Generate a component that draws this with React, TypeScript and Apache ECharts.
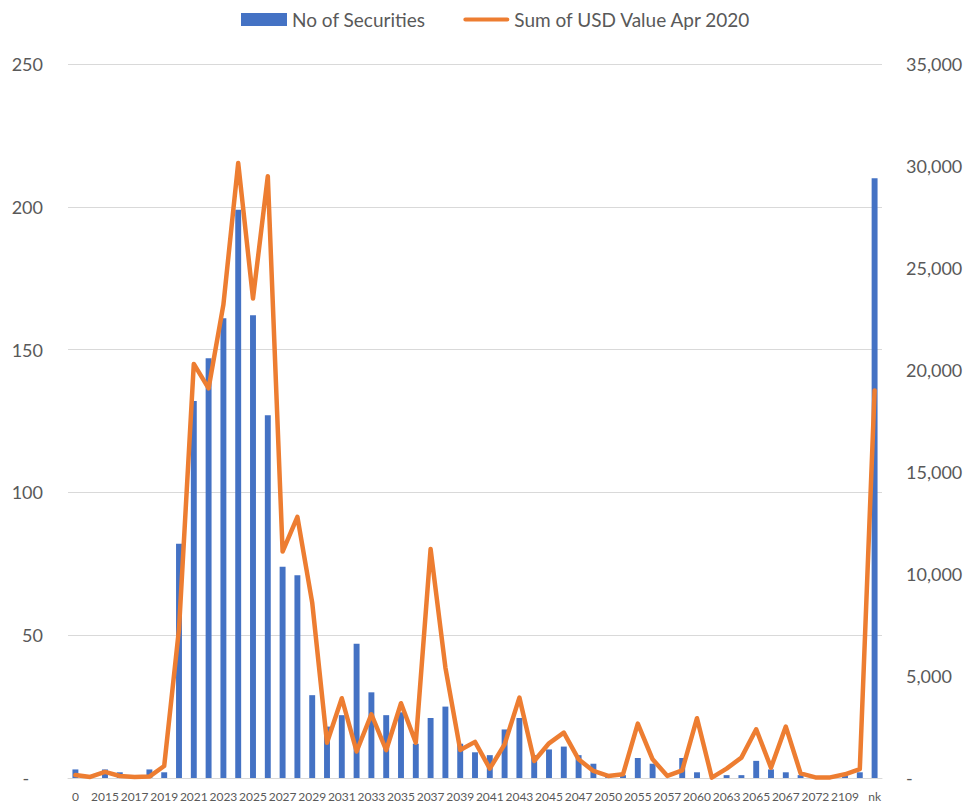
import React, { useEffect, useRef } from "react";
import * as echarts from "echarts";

const categories = [
  "0", "2014", "2015", "2016", "2017", "2018", "2019", "2020", "2021", "2022",
  "2023", "2024", "2025", "2026", "2027", "2028", "2029", "2030", "2031", "2032",
  "2033", "2034", "2035", "2036", "2037", "2038", "2039", "2040", "2041", "2042",
  "2043", "2044", "2045", "2046", "2047", "2048", "2050", "2052", "2055", "2056",
  "2057", "2058", "2060", "2062", "2063", "2064", "2065", "2066", "2067", "2070",
  "2072", "2079", "2109", "2116", "nk",
];

const noOfSecurities = [
  3, 0, 3, 2, 0, 3, 2, 82, 132, 147,
  161, 199, 162, 127, 74, 71, 29, 18, 22, 47,
  30, 22, 23, 12, 21, 25, 12, 9, 8, 17,
  21, 8, 10, 11, 8, 5, 1, 1, 7, 5,
  0, 7, 2, 0, 1, 1, 6, 3, 2, 1,
  0, 0, 1, 2, 210,
];

const sumUsdValue = [
  150, 50, 300, 100, 50, 70, 590, 7300, 20300, 19100,
  23200, 30150, 23500, 29500, 11100, 12800, 8600, 1730, 3910, 1300,
  3125, 1360, 3665, 1735, 11225, 5415, 1375, 1770, 460, 1650,
  3940, 835, 1700, 2225, 915, 345, 100, 180, 2665, 915,
  100, 375, 2930, 20, 460, 1000, 2390, 505, 2520, 230,
  30, 30, 180, 430, 19000,
];

const seriesNames = ["No of Securities", "Sum of USD Value Apr 2020"];

const FONT = "Lato, 'Open Sans', sans-serif";
const TEXT = "#595959";

export default function App() {
  const ref = useRef<HTMLDivElement>(null);
  useEffect(() => {
    if (!ref.current) return;
    const chart = echarts.init(ref.current, undefined, { renderer: "svg" });
    chart.setOption({
      animation: false,
      textStyle: { fontFamily: FONT },
      legend: {
        top: 5,
        left: 236,
        itemGap: 38,
        itemWidth: 46,
        itemHeight: 13,
        textStyle: { fontSize: 19, color: TEXT, fontFamily: FONT },
        data: [
          { name: seriesNames[0], icon: "rect" },
          { name: seriesNames[1], icon: "path://M2,0 L42,0 A2,2 0 0 1 42,4 L2,4 A2,2 0 0 1 2,0 Z" },
        ],
      },
      grid: { left: 68, right: 85, top: 64, bottom: 27, containLabel: false },
      xAxis: {
        type: "category",
        data: categories,
        axisLine: { lineStyle: { color: "#D9D9D9" } },
        axisTick: { show: false },
        axisLabel: {
          interval: 1,
          color: TEXT,
          fontSize: 12,
          fontFamily: FONT,
          margin: 12,
        },
      },
      yAxis: [
        {
          type: "value",
          min: 0,
          max: 250,
          interval: 50,
          axisLine: { show: false },
          axisTick: { show: false },
          splitLine: { lineStyle: { color: "#D9D9D9", width: 1 } },
          axisLabel: {
            color: TEXT,
            fontSize: 18,
            fontFamily: FONT,
            margin: 25,
            formatter: (v: number) => (v === 0 ? "-   " : String(v)),
          },
        },
        {
          type: "value",
          min: 0,
          max: 35000,
          interval: 5000,
          axisLine: { show: false },
          axisTick: { show: false },
          splitLine: { show: false },
          axisLabel: {
            color: TEXT,
            fontSize: 18,
            fontFamily: FONT,
            margin: 24,
            formatter: (v: number) => (v === 0 ? "-" : v.toLocaleString("en-US")),
          },
        },
      ],
      series: [
        {
          name: seriesNames[0],
          type: "bar",
          data: noOfSecurities,
          barWidth: "40%",
          itemStyle: { color: "#4472C4" },
        },
        {
          name: seriesNames[1],
          type: "line",
          yAxisIndex: 1,
          data: sumUsdValue,
          symbol: "none",
          smooth: false,
          lineStyle: { color: "#ED7D31", width: 4.5, cap: "round", join: "round" },
          itemStyle: { color: "#ED7D31" },
        },
      ],
    });
    return () => chart.dispose();
  }, []);
  return (
    <div
      ref={ref}
      style={{ position: "absolute", left: 0, top: 0, width: 967, height: 805 }}
    />
  );
}
